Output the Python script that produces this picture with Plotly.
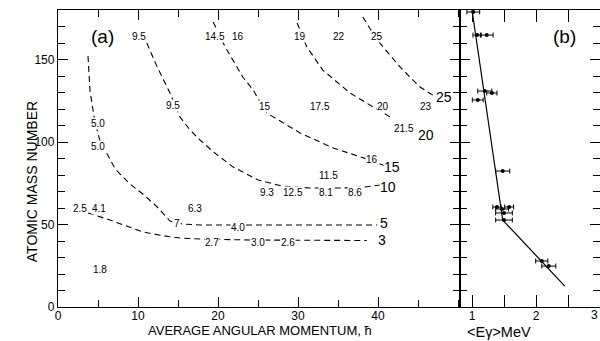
import plotly.graph_objects as go

# ---------------- Panel (a): contours (data coords: angular momentum, mass number)
c3_x = [3.75, 6.5, 10.6, 13.0, 15.25, 17.75, 24.0, 30.25, 38.6]
c3_y = [57.0, 52.7, 45.5, 43.3, 41.8, 41.2, 40.6, 40.3, 40.3]
c5_x = [3.75, 4.0, 4.6, 5.25, 7.1, 7.4, 9.0, 10.6, 12.4, 14.0, 15.5, 17.75, 25.0, 32.0, 39.9]
c5_y = [152.1, 130.9, 112.7, 100.6, 84.2, 82.4, 74.5, 68.5, 60.6, 52.1, 50.3, 49.7, 49.7, 49.7, 49.7]
c10_x = [11.1, 12.4, 14.0, 15.25, 16.5, 17.75, 19.6, 21.9, 25.0, 28.0, 31.5, 35.25, 38.4, 40.25]
c10_y = [160.0, 145.5, 129.7, 115.2, 107.3, 101.2, 93.3, 84.8, 77.0, 73.3, 72.1, 72.1, 72.7, 73.9]
c15_x = [19.4, 20.9, 23.1, 24.4, 25.25, 26.1, 28.6, 30.25, 34.4, 38.6, 40.9]
c15_y = [172.7, 157.6, 139.4, 131.5, 124.2, 117.6, 110.3, 105.5, 96.4, 89.7, 85.5]
c20_x = [29.9, 31.1, 33.1, 36.5, 39.4, 41.75]
c20_y = [172.1, 157.6, 143.6, 129.7, 121.2, 114.5]
c25_x = [38.1, 39.9, 42.75, 45.25, 47.4]
c25_y = [175.8, 161.8, 145.5, 133.3, 126.7]
contours_x = [c3_x, c5_x, c10_x, c15_x, c20_x, c25_x]
contours_y = [c3_y, c5_y, c10_y, c15_y, c20_y, c25_y]

# contour level labels
level_text = ["3", "5", "10", "15", "20", "25"]
level_x = [40.5, 40.75, 41.25, 41.75, 46.0, 48.25]
level_y = [40.6, 50.9, 72.7, 84.8, 104.2, 127.3]

# measured values written in the plane
val_text = ["9.5", "9.5", "5.0", "5.0", "14.5", "16", "19", "22", "25",
            "15", "17.5", "20", "23", "21.5", "16", "11.5",
            "9.3", "12.5", "8.1", "8.6", "6.3", "7", "4.0",
            "2.5", "4.1", "2.7", "3.0", "2.6", "1.8"]
val_x = [10.1, 14.4, 5.0, 5.0, 19.6, 22.5, 30.25, 35.1, 39.9,
         25.9, 32.75, 40.6, 46.0, 43.25, 39.25, 33.75,
         26.1, 29.4, 33.5, 37.1, 17.1, 14.9, 22.5,
         2.75, 5.1, 19.25, 25.0, 28.75, 5.25]
val_y = [164.2, 122.4, 111.5, 97.0, 164.2, 164.2, 164.2, 164.2, 164.2,
         121.8, 121.8, 121.8, 121.8, 107.9, 89.1, 80.0,
         69.7, 69.7, 69.7, 69.7, 59.4, 50.9, 47.9,
         59.4, 59.4, 38.8, 38.8, 38.8, 23.0]

# ---------------- Panel (b): <E_gamma> vs mass number
eg_x = [1.02, 1.08, 1.23, 1.20, 1.31, 1.09, 1.48, 1.39, 1.47, 1.58, 1.50, 1.50, 2.09, 2.20]
eg_y = [178.8, 164.8, 164.8, 130.9, 129.7, 125.5, 82.4, 60.6, 59.4, 60.6, 57.0, 52.7, 27.9, 24.8]
eg_err = [0.10, 0.065, 0.10, 0.11, 0.08, 0.085, 0.11, 0.065, 0.10, 0.07, 0.13, 0.13, 0.095, 0.11]
fit_x = [1.0, 1.48, 2.45]
fit_y = [180.0, 52.7, 12.7]

FONT = "Liberation Sans, Arial, sans-serif"
fig = go.Figure()

for cx, cy in zip(contours_x, contours_y):
    fig.add_trace(go.Scatter(x=cx, y=cy, mode="lines", xaxis="x", yaxis="y",
                             line=dict(color="black", width=1.1, dash="6px,4px"),
                             showlegend=False, hoverinfo="skip"))

fig.add_trace(go.Scatter(x=fit_x, y=fit_y, mode="lines", xaxis="x2", yaxis="y2",
                         line=dict(color="black", width=1.2), showlegend=False,
                         cliponaxis=False))
fig.add_trace(go.Scatter(x=eg_x, y=eg_y, mode="markers", xaxis="x2", yaxis="y2",
                         marker=dict(color="black", size=4),
                         error_x=dict(type="data", array=eg_err, color="black",
                                      thickness=1, width=2.5),
                         showlegend=False, cliponaxis=False))

ann = []
for t, x, y in zip(val_text, val_x, val_y):
    ann.append(dict(x=x, y=y, xref="x", yref="y", text=t, showarrow=False,
                    font=dict(family=FONT, size=10, color="black"),
                    bgcolor="white", borderpad=0))
for t, x, y in zip(level_text, level_x, level_y):
    ann.append(dict(x=x, y=y, xref="x", yref="y", text=t, showarrow=False,
                    font=dict(family=FONT, size=14, color="black"),
                    bgcolor="white", borderpad=0))
ann.append(dict(x=5.6, y=164.2, xref="x", yref="y", text="(a)", showarrow=False,
                font=dict(family=FONT, size=19, color="black")))
ann.append(dict(x=2.45, y=164.2, xref="x2", yref="y2", text="(b)", showarrow=False,
                font=dict(family=FONT, size=19, color="black")))
ann.append(dict(x=0.3727, y=-0.0775, xref="paper", yref="paper", yanchor="middle",
                text="AVERAGE ANGULAR MOMENTUM, ħ", showarrow=False,
                font=dict(family=FONT, size=13, color="black")))
ann.append(dict(x=0.876, y=-0.083, xref="paper", yref="paper", yanchor="middle",
                text="&lt;Eγ&gt;MeV", showarrow=False,
                font=dict(family=FONT, size=14.5, color="black")))
ann.append(dict(x=1.0, y=-0.027, xref="paper", yref="paper", yanchor="middle",
                text="3", showarrow=False,
                font=dict(family=FONT, size=12, color="black")))
ann.append(dict(x=-0.066, y=0.421, xref="paper", yref="paper", textangle=-90,
                text="ATOMIC MASS NUMBER", showarrow=False,
                font=dict(family=FONT, size=14, color="black")))

axis_common = dict(showline=True, linecolor="black", linewidth=1.3, mirror="ticks",
                   ticks="inside", tickcolor="black", showgrid=False, zeroline=False,
                   tickfont=dict(family=FONT, size=12, color="black"))

split = 402 / 542
fig.update_layout(
    width=600, height=341,
    margin=dict(l=58, r=0, t=10, b=34),
    paper_bgcolor="white", plot_bgcolor="white",
    showlegend=False,
    annotations=ann,
    xaxis=dict(domain=[0, split], range=[0, 50.25], anchor="y",
               tickvals=[0, 10, 20, 30, 40], ticklen=10, tickwidth=1.2,
               ticklabelstandoff=-3,
               minor=dict(dtick=5, ticklen=7, ticks="inside", tickcolor="black", tickwidth=1),
               **axis_common),
    yaxis=dict(domain=[0, 1], range=[0, 180], anchor="x",
               tickvals=[0, 50, 100, 150], ticklen=10, tickwidth=1.2,
               minor=dict(dtick=10, ticklen=7, ticks="inside", tickcolor="black", tickwidth=1),
               **axis_common),
    xaxis2=dict(domain=[split, 1], range=[0.8125, 3.0], anchor="y2",
                tickvals=[1, 2], ticklen=12, tickwidth=1.2,
                ticklabelstandoff=-3,
                minor=dict(dtick=0.5, ticklen=12, ticks="inside", tickcolor="black", tickwidth=1),
                **axis_common),
    yaxis2=dict(domain=[0, 1], range=[0, 180], anchor="x2", showticklabels=False,
                tickvals=[0, 50, 100, 150], ticklen=10, tickwidth=1.2,
                minor=dict(dtick=10, ticklen=7, ticks="inside", tickcolor="black", tickwidth=1),
                **axis_common),
)

fig.write_html("out.html", config={"displayModeBar": False},
               post_script="document.body.style.margin='0';document.body.style.padding='0';")
